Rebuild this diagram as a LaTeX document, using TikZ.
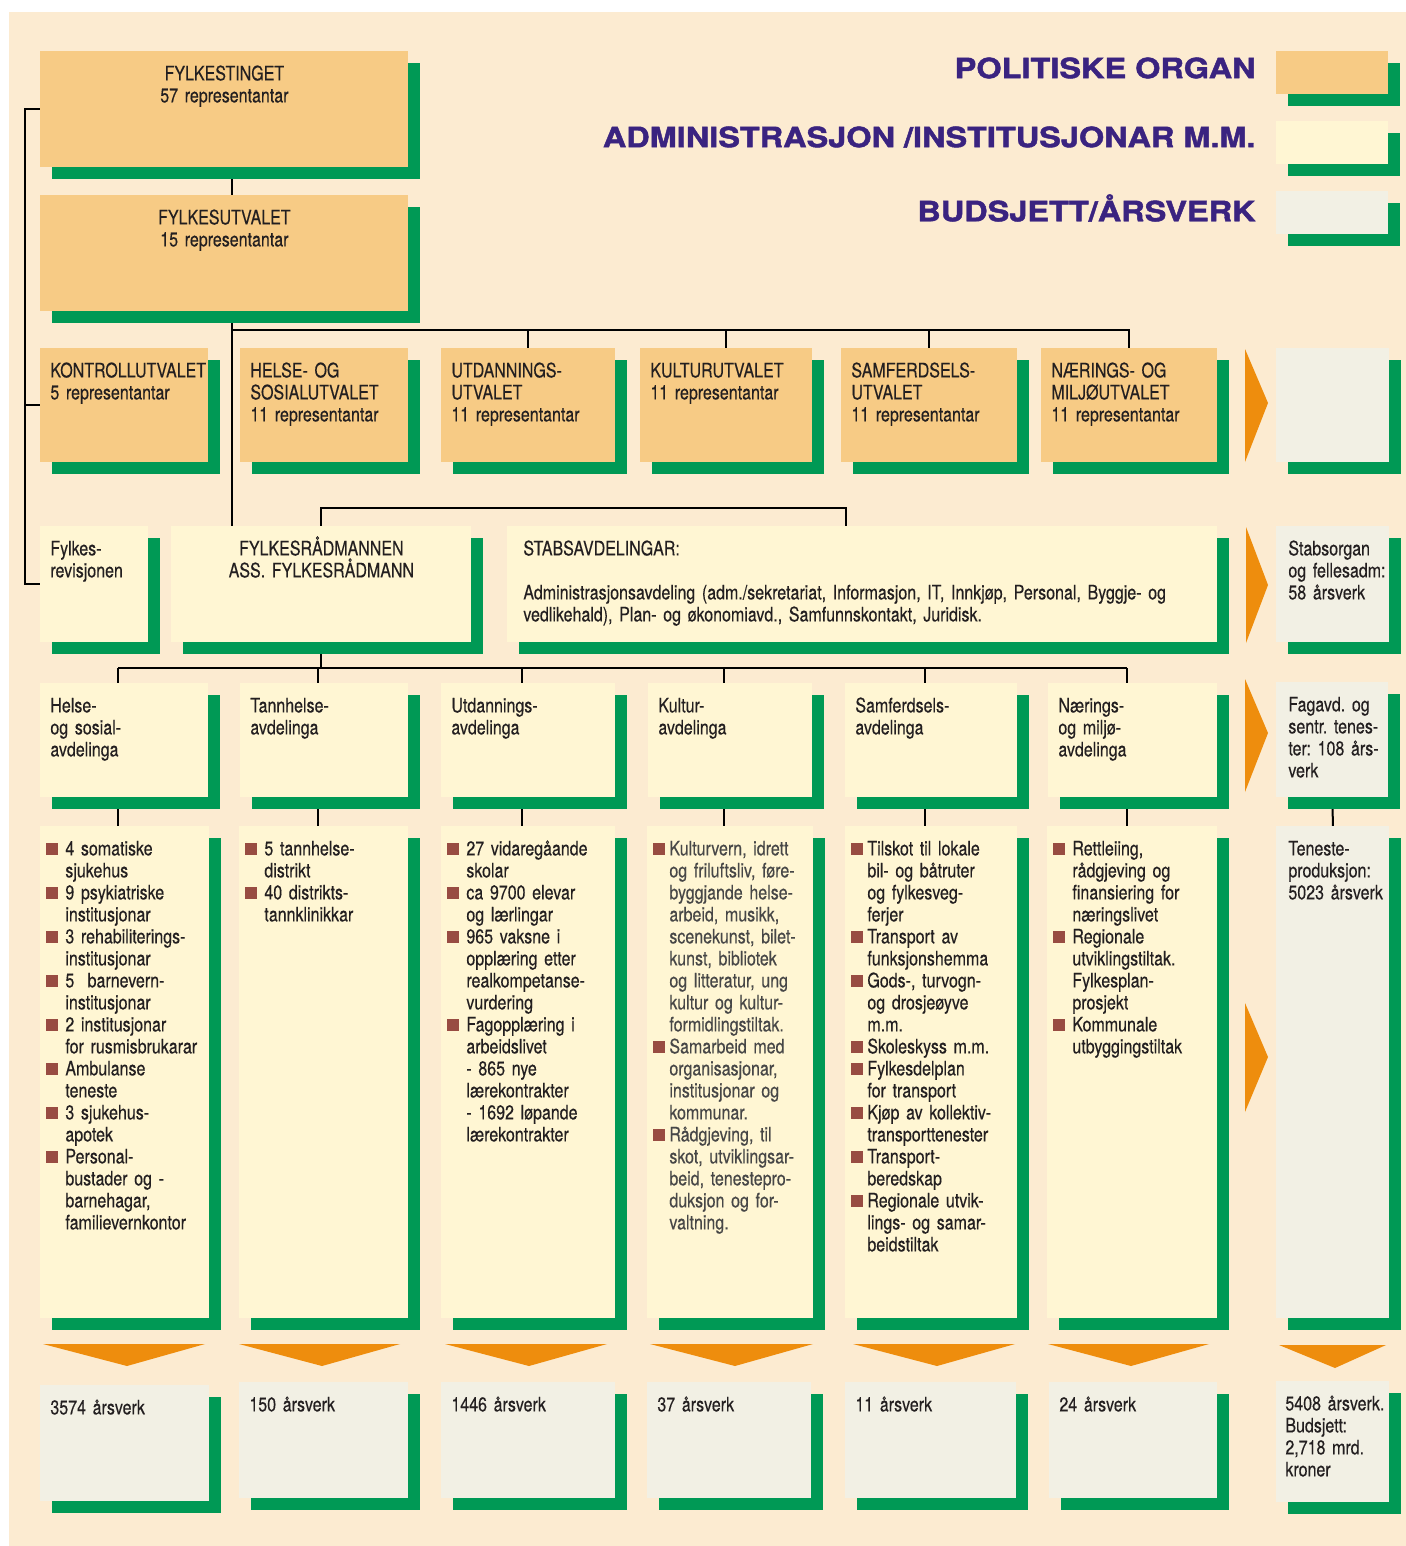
\documentclass[tikz,border=0pt]{standalone}
\usepackage{fontspec}
\setmainfont{TeX Gyre Heros}[FakeStretch=0.8, FakeBold=0.3]
\newfontfamily\legfont{TeX Gyre Heros}[FakeStretch=1.16, BoldFeatures={FakeBold=1.6}]
\usetikzlibrary{shadows}
\frenchspacing

\definecolor{cream}{RGB}{252,235,209}
\definecolor{polcol}{RGB}{247,203,133}
\definecolor{admcol}{RGB}{255,246,211}
\definecolor{budcol}{RGB}{242,240,228}
\definecolor{shgreen}{RGB}{0,153,85}
\definecolor{arrcol}{RGB}{238,141,13}
\definecolor{legcol}{RGB}{58,35,128}
\definecolor{bulcol}{RGB}{152,76,66}
\definecolor{txtcol}{RGB}{35,31,32}

\newlength\bulw
\setlength\bulw{9.5pt}
\newcommand\lbul{\makebox[\bulw][l]{\textcolor{bulcol}{\rule{6pt}{6pt}}}}
\newcommand\lind{\hspace*{\bulw}}
\newcommand\lns[1]{\begin{tabular}[t]{@{}l@{}}#1\end{tabular}}

\pgfdeclarelayer{paper}
\pgfdeclarelayer{wires}
\pgfsetlayers{paper,wires,main}

\tikzset{
  box/.style={rectangle, anchor=north west, inner xsep=5pt, inner ysep=6pt, text height=8.5pt,
    align=left, text=txtcol, font=\fontsize{10}{11}\selectfont,
    drop shadow={shadow xshift=6pt, shadow yshift=-6pt, opacity=1, fill=shgreen}},
  pol/.style={box, fill=polcol},
  adm/.style={box, fill=admcol},
  bud/.style={box, fill=budcol},
  lst/.style={adm, inner xsep=3pt},
  sz/.code 2 args={\pgfmathsetmacro\boxtw{#1/2-2*\pgfkeysvalueof{/pgf/inner xsep}}%
    \pgfmathsetmacro\boxtd{#2/2-2*\pgfkeysvalueof{/pgf/inner ysep}-8.5}%
    \edef\boxsz{\noexpand\pgfkeysalso{text width=\boxtw pt,text depth=\boxtd pt}}\boxsz},
  leg/.style={anchor=east, inner sep=0pt, text=legcol, font=\legfont\bfseries\fontsize{14}{16}\selectfont},
  wire/.style={line width=1pt, black},
  tri/.style={fill=arrcol}
}

\begin{document}
\begin{tikzpicture}[x=0.5pt, y=-0.5pt]
\useasboundingbox (0,0) rectangle (1406,1546);
\begin{pgfonlayer}{paper}
\fill [white] (0,0) rectangle (1406,1546);
\fill [cream] (9,12) rectangle (1406,1546);
\end{pgfonlayer}

% legend
\node [leg] (lp) at (1256,68) {POLITISKE ORGAN};
\node [leg] (la) at (1256,137) {ADMINISTRASJON /INSTITUSJONAR M.M.};
\node [leg] (lb) at (1256,208) {BUDSJETT/ÅRSVERK};
\node [pol, sz={112}{43}] (kp) at (1276,51) {};
\node [adm, sz={112}{43}] (ka) at (1276,121) {};
\node [bud, sz={112}{43}] (kb) at (1276,191) {};

% politiske organ
\node [pol, align=center, sz={368}{116}] (ft) at (40,51) {FYLKESTINGET\\57 representantar};
\node [pol, align=center, sz={368}{116}] (fu) at (40,195) {FYLKESUTVALET\\15 representantar};
\node [pol, sz={168}{114}] (u1) at (40,348) {\lns{KONTROLLUTVALET\\5 representantar}};
\node [pol, sz={168}{114}] (u2) at (240,348) {\lns{HELSE- OG\\SOSIALUTVALET\\11 representantar}};
\node [pol, sz={174}{114}] (u3) at (441,348) {\lns{UTDANNINGS-\\UTVALET\\11 representantar}};
\node [pol, sz={172}{114}] (u4) at (640,348) {\lns{KULTURUTVALET\\11 representantar}};
\node [pol, sz={176}{114}] (u5) at (841,348) {\lns{SAMFERDSELS-\\UTVALET\\11 representantar}};
\node [pol, sz={176}{114}] (u6) at (1041,348) {\lns{NÆRINGS- OG\\MILJØUTVALET\\11 representantar}};
\node [bud, sz={113}{114}] (gr3) at (1276,348) {};

% administrasjon
\node [adm, sz={108}{116}] (rev) at (40,526) {\lns{Fylkes-\\revisjonen}};
\node [adm, align=center, sz={300}{116}] (rm) at (171,526) {FYLKESRÅDMANNEN\\ASS. FYLKESRÅDMANN};
\node [adm, inner xsep=8pt, sz={710}{116}] (sa) at (507,526) {\lns{STABSAVDELINGAR:\\[11pt]Administrasjonsavdeling (adm./sekretariat, Informasjon, IT, Innkjøp, Personal, Byggje- og\\vedlikehald), Plan- og økonomiavd., Samfunnskontakt, Juridisk.}};
\node [bud, inner xsep=6pt, sz={113}{116}] (gr4) at (1276,526) {\lns{Stabsorgan\\og fellesadm:\\58 årsverk}};

\node [adm, sz={168}{114}] (d1) at (40,683) {\lns{Helse-\\og sosial-\\avdelinga}};
\node [adm, sz={168}{114}] (d2) at (240,683) {\lns{Tannhelse-\\avdelinga}};
\node [adm, sz={174}{114}] (d3) at (441,683) {\lns{Utdannings-\\avdelinga}};
\node [adm, sz={164}{114}] (d4) at (648,683) {\lns{Kultur-\\avdelinga}};
\node [adm, sz={172}{114}] (d5) at (845,683) {\lns{Samferdsels-\\avdelinga}};
\node [adm, sz={169}{114}] (d6) at (1048,683) {\lns{Nærings-\\og miljø-\\avdelinga}};
\node [bud, inner xsep=6pt, sz={112}{115}] (gr5) at (1276,682) {\lns{Fagavd. og\\sentr. tenes-\\ter: 108 års-\\verk}};

\node [lst, sz={169}{492}] (l1) at (40,826) {\lns{\lbul 4 somatiske\\ \lind sjukehus\\ \lbul 9 psykiatriske\\ \lind institusjonar\\ \lbul 3 rehabiliterings-\\ \lind institusjonar\\ \lbul 5~ barnevern-\\ \lind institusjonar\\ \lbul 2 institusjonar\\ \lind for rusmisbrukarar\\ \lbul Ambulanse\\ \lind teneste\\ \lbul 3 sjukehus-\\ \lind apotek\\ \lbul Personal-\\ \lind bustader og -\\ \lind barnehagar,\\ \lind familievernkontor}};
\node [lst, sz={169}{492}] (l2) at (239,826) {\lns{\lbul 5 tannhelse-\\ \lind distrikt\\ \lbul 40 distrikts-\\ \lind tannklinikkar}};
\node [lst, sz={174}{492}] (l3) at (441,826) {\lns{\lbul 27 vidaregåande\\ \lind skolar\\ \lbul ca 9700 elevar\\ \lind og lærlingar\\ \lbul 965 vaksne i\\ \lind opplæring etter\\ \lind realkompetanse-\\ \lind vurdering\\ \lbul Fagopplæring i\\ \lind arbeidslivet\\ \lind - 865 nye\\ \lind lærekontrakter\\ \lind - 1692 løpande\\ \lind lærekontrakter}};
\node [lst, text=black!72, sz={166}{492}] (l4) at (647,826) {\setlength\bulw{8pt}\lns{\lbul Kulturvern, idrett\\ \lind og friluftsliv, føre-\\ \lind byggjande helse-\\ \lind arbeid, musikk,\\ \lind scenekunst, bilet-\\ \lind kunst, bibliotek\\ \lind og litteratur, ung\\ \lind kultur og kultur-\\ \lind formidlingstiltak.\\ \lbul Samarbeid med\\ \lind organisasjonar,\\ \lind institusjonar og\\ \lind kommunar.\\ \lbul Rådgjeving, til\\ \lind skot, utviklingsar-\\ \lind beid, tenestepro-\\ \lind duksjon og for-\\ \lind valtning.}};
\node [lst, sz={172}{492}] (l5) at (845,826) {\setlength\bulw{8pt}\lns{\lbul Tilskot til lokale\\ \lind bil- og båtruter\\ \lind og fylkesveg-\\ \lind ferjer\\ \lbul Transport av\\ \lind funksjonshemma\\ \lbul Gods-, turvogn-\\ \lind og drosjeøyve\\ \lind m.m.\\ \lbul Skoleskyss m.m.\\ \lbul Fylkesdelplan\\ \lind for transport\\ \lbul Kjøp av kollektiv-\\ \lind transporttenester\\ \lbul Transport-\\ \lind beredskap\\ \lbul Regionale utvik-\\ \lind lings- og samar-\\ \lind beidstiltak}};
\node [lst, sz={170}{492}] (l6) at (1047,826) {\lns{\lbul Rettleiing,\\ \lind rådgjeving og\\ \lind finansiering for\\ \lind næringslivet\\ \lbul Regionale\\ \lind utviklingstiltak.\\ \lind Fylkesplan-\\ \lind prosjekt\\ \lbul Kommunale\\ \lind utbyggingstiltak}};
\node [bud, inner xsep=6pt, sz={113}{492}] (gr6) at (1276,826) {\lns{Teneste-\\produksjon:\\5023 årsverk}};

% budsjett
\node [bud, sz={169}{116}] (v1) at (40,1385) {\lns{3574 årsverk}};
\node [bud, sz={169}{116}] (v2) at (239,1382) {\lns{150 årsverk}};
\node [bud, sz={174}{116}] (v3) at (441,1382) {\lns{1446 årsverk}};
\node [bud, sz={164}{116}] (v4) at (647,1382) {\lns{37 årsverk}};
\node [bud, sz={171}{116}] (v5) at (845,1382) {\lns{11 årsverk}};
\node [bud, sz={168}{116}] (v6) at (1049,1382) {\lns{24 årsverk}};
\node [bud, inner xsep=4.5pt, sz={113}{121}] (gr7) at (1276,1381) {\lns{5408 årsverk.\\Budsjett:\\2,718 mrd.\\kroner}};

% orange arrows
\fill [tri] (1245,349) -- (1268,403) -- (1245,462) -- cycle;
\fill [tri] (1246,527) -- (1268,585) -- (1246,643) -- cycle;
\fill [tri] (1245,679) -- (1268,733) -- (1245,792) -- cycle;
\fill [tri] (1245,1003) -- (1268,1057) -- (1245,1112) -- cycle;
\fill [tri] (43,1344) -- (205,1344) -- (127,1366) -- cycle;
\fill [tri] (239,1344) -- (400,1344) -- (322,1366) -- cycle;
\fill [tri] (445,1344) -- (607,1344) -- (529,1366) -- cycle;
\fill [tri] (650,1344) -- (813,1344) -- (735,1366) -- cycle;
\fill [tri] (853,1344) -- (1015,1344) -- (937,1366) -- cycle;
\fill [tri] (1048,1344) -- (1209,1344) -- (1131,1366) -- cycle;
\fill [tri] (1279,1345) -- (1386,1345) -- (1335,1368) -- cycle;

% connectors
\begin{pgfonlayer}{wires}
\coordinate (rail) at (25,104);
\coordinate (ubus) at (232,330);
\coordinate (dbus) at (232,668);
\draw [wire] (ft.west) -- (ft.west -| rail) |- (rev.west);
\draw [wire] (u1.west) -- (u1.west -| rail);
\draw [wire] ([xshift=4pt]ft.south) -- ([xshift=4pt]fu.north);
\draw [wire] ([xshift=4pt]fu.south) -- ([xshift=4pt]fu.south |- rm.north);
\draw [wire] (ubus) -| (u6.north);
\draw [wire] (u3.north) -- (u3.north |- ubus);
\draw [wire] (u4.north) -- (u4.north |- ubus);
\draw [wire] (u5.north) -- (u5.north |- ubus);
\draw [wire] (rm.north) -- ++(0,-18) -| ([xshift=-8pt]sa.north);
\draw [wire] (rm.south) -- (rm.south |- dbus);
\draw [wire] ([xshift=-3pt]d1.north |- dbus) -- ([xshift=-3pt]d6.north |- dbus);
\draw [wire] ([xshift=-3pt]d1.north) -- ([xshift=-3pt]d1.north |- dbus);
\draw [wire] ([xshift=-3pt]d2.north) -- ([xshift=-3pt]d2.north |- dbus);
\draw [wire] ([xshift=-3pt]d3.north) -- ([xshift=-3pt]d3.north |- dbus);
\draw [wire] ([xshift=-3pt]d4.north) -- ([xshift=-3pt]d4.north |- dbus);
\draw [wire] ([xshift=-3pt]d5.north) -- ([xshift=-3pt]d5.north |- dbus);
\draw [wire] ([xshift=-3pt]d6.north) -- ([xshift=-3pt]d6.north |- dbus);
\draw [wire] ([xshift=-3pt]d1.south) -- ([xshift=-3pt]d1.south |- l1.north);
\draw [wire] ([xshift=-3pt]d2.south) -- ([xshift=-3pt]d2.south |- l2.north);
\draw [wire] ([xshift=-3pt]d3.south) -- ([xshift=-3pt]d3.south |- l3.north);
\draw [wire] ([xshift=-3pt]d4.south) -- ([xshift=-3pt]d4.south |- l4.north);
\draw [wire] ([xshift=-3pt]d5.south) -- ([xshift=-3pt]d5.south |- l5.north);
\draw [wire] ([xshift=-3pt]d6.south) -- ([xshift=-3pt]d6.south |- l6.north);
\draw [wire] (gr5.south) -- (gr6.north);
\end{pgfonlayer}
\end{tikzpicture}
\end{document}
